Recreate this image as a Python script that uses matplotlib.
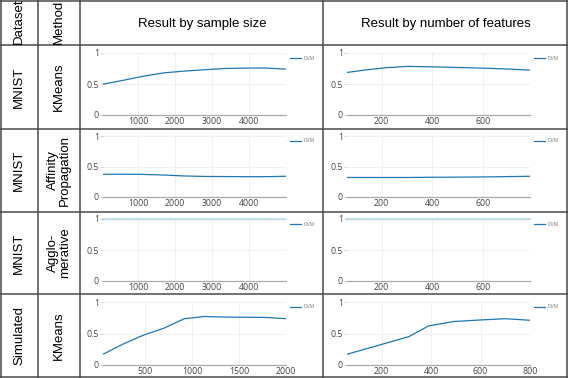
import matplotlib
matplotlib.use("Agg")
import matplotlib.pyplot as plt
from matplotlib.lines import Line2D

W, H = 568, 378

# ---------------- data ----------------
datasets = ["MNIST", "MNIST", "MNIST", "Simulated"]
methods = ["KMeans", "Affinity\nPropagation", "Agglo-\nmerative", "KMeans"]
col_headers = ["Dataset", "Method", "Result by sample size", "Result by number of features"]
series_name = "DVM"

mnist_sizes = [50, 600, 1150, 1700, 2250, 2800, 3350, 3900, 4450, 5000]
mnist_feats = [64, 144, 224, 304, 384, 464, 544, 624, 704, 784]
sim_sizes = [50, 267, 483, 700, 917, 1133, 1350, 1567, 1783, 2000]
sim_feats = [60, 310, 390, 490, 600, 700, 800]

kmeans_size = [0.497, 0.56, 0.627, 0.68, 0.708, 0.73, 0.75, 0.757, 0.757, 0.74]
kmeans_feat = [0.686, 0.73, 0.765, 0.784, 0.778, 0.77, 0.762, 0.752, 0.74, 0.724]
affinity_size = [0.373, 0.373, 0.37, 0.36, 0.345, 0.337, 0.335, 0.333, 0.333, 0.34]
affinity_feat = [0.32, 0.32, 0.32, 0.32, 0.323, 0.325, 0.327, 0.33, 0.335, 0.34]
agglo_size = [1, 1, 1, 1, 1, 1, 1, 1, 1, 1]
agglo_feat = [1, 1, 1, 1, 1, 1, 1, 1, 1, 1]
sim_size_vals = [0.17, 0.335, 0.475, 0.585, 0.735, 0.77, 0.76, 0.758, 0.755, 0.735]
sim_feat_vals = [0.17, 0.45, 0.62, 0.69, 0.715, 0.735, 0.71]

size_ticks = [[1000, 2000, 3000, 4000]] * 3 + [[500, 1000, 1500, 2000]]
feat_ticks = [[200, 400, 600]] * 3 + [[200, 400, 600, 800]]
y_ticks = [0, 0.5, 1]
y_ticklabels = ["0", "0.5", "1"]

rows = [
    (mnist_sizes, kmeans_size, mnist_feats, kmeans_feat),
    (mnist_sizes, affinity_size, mnist_feats, affinity_feat),
    (mnist_sizes, agglo_size, mnist_feats, agglo_feat),
    (sim_sizes, sim_size_vals, sim_feats, sim_feat_vals),
]

# ---------------- layout ----------------
fig = plt.figure(figsize=(W / 100, H / 100), dpi=100)
fig.patch.set_facecolor("white")

def fx(x):
    return x / W

def fy(y):
    return 1 - y / H

vlines = [0.5, 38, 80, 323, 567]
hlines = [0.5, 45, 129, 212, 294, 377]
LC = "#4a4a4a"
for x in vlines:
    fig.add_artist(Line2D([fx(x), fx(x)], [fy(0), fy(H)], color=LC, lw=1.1, transform=fig.transFigure))
for y in hlines:
    fig.add_artist(Line2D([fx(0), fx(W)], [fy(y), fy(y)], color=LC, lw=1.1, transform=fig.transFigure))

HF = ["Liberation Sans", "DejaVu Sans"]
TF = ["Open Sans", "DejaVu Sans"]
FS = 9.5

# header
fig.text(fx(19), fy(44), col_headers[0], rotation=90, ha="center", va="bottom", fontsize=FS, family=HF)
fig.text(fx(59), fy(44), col_headers[1], rotation=90, ha="center", va="bottom", fontsize=FS, family=HF)
fig.text(fx(202), fy(24), col_headers[2], ha="center", va="center", fontsize=FS, family=HF)
fig.text(fx(446), fy(24), col_headers[3], ha="center", va="center", fontsize=FS, family=HF)

row_bounds = [(45, 129), (129, 212), (212, 294), (294, 377)]
axes_y = [(53, 115), (136, 197), (219, 281), (302, 365)]
size_x = (103, 286)
feat_x = (347, 530)
BLUE = "#1f77b4"

def make_ax(x0, x1, ytop, ybot):
    return fig.add_axes([fx(x0), fy(ybot), (x1 - x0) / W, (ybot - ytop) / H])

def style_ax(ax, xs, ticks):
    ax.set_xlim(xs[0], xs[-1])
    ax.set_ylim(0, 1)
    ax.set_xticks(ticks)
    ax.set_xticklabels([str(t) for t in ticks], fontsize=6.3, color="#444444", family=TF)
    ax.set_yticks(y_ticks)
    ax.set_yticklabels(y_ticklabels, fontsize=6.3, color="#444444", family=TF)
    for s in ["top", "right", "left"]:
        ax.spines[s].set_visible(False)
    ax.spines["bottom"].set_color("#aaaaaa")
    ax.spines["bottom"].set_linewidth(0.9)
    ax.tick_params(axis="x", length=0, pad=1.2)
    ax.tick_params(axis="y", length=2.2, width=0.6, color="#cccccc", pad=0.8)
    ax.grid(True, color="#eeeeee", lw=0.6)
    ax.set_axisbelow(True)
    ax.patch.set_alpha(0)

def legend(x0, y):
    fig.add_artist(Line2D([fx(x0), fx(x0 + 11)], [fy(y), fy(y)], color=BLUE, lw=0.9, transform=fig.transFigure))
    fig.text(fx(x0 + 13.5), fy(y), series_name, fontsize=3.6, color="#777777", va="center", ha="left", family=TF)

for i, (xs1, v1, xs2, v2) in enumerate(rows):
    r0, r1 = row_bounds[i]
    cy = (r0 + r1) / 2
    fig.text(fx(19), fy(cy), datasets[i], rotation=90, ha="center", va="center", fontsize=FS, family=HF)
    fig.text(fx(59), fy(cy), methods[i], rotation=90, ha="center", va="center", fontsize=FS,
             family=HF, linespacing=0.95, multialignment="center")
    ytop, ybot = axes_y[i]
    is_flat = (i == 2)
    for (xa, xb), xs, vs, ticks, lx in [(size_x, xs1, v1, size_ticks[i], 290),
                                        (feat_x, xs2, v2, feat_ticks[i], 534)]:
        ax = make_ax(xa, xb, ytop, ybot)
        style_ax(ax, xs, ticks)
        if is_flat:
            ax.plot(xs, vs, color=BLUE, lw=1.6, alpha=0.22, clip_on=False)
        else:
            ax.plot(xs, vs, color=BLUE, lw=0.9)
        legend(lx, ytop + 5)

fig.savefig("out.png", dpi=100, facecolor="white")
